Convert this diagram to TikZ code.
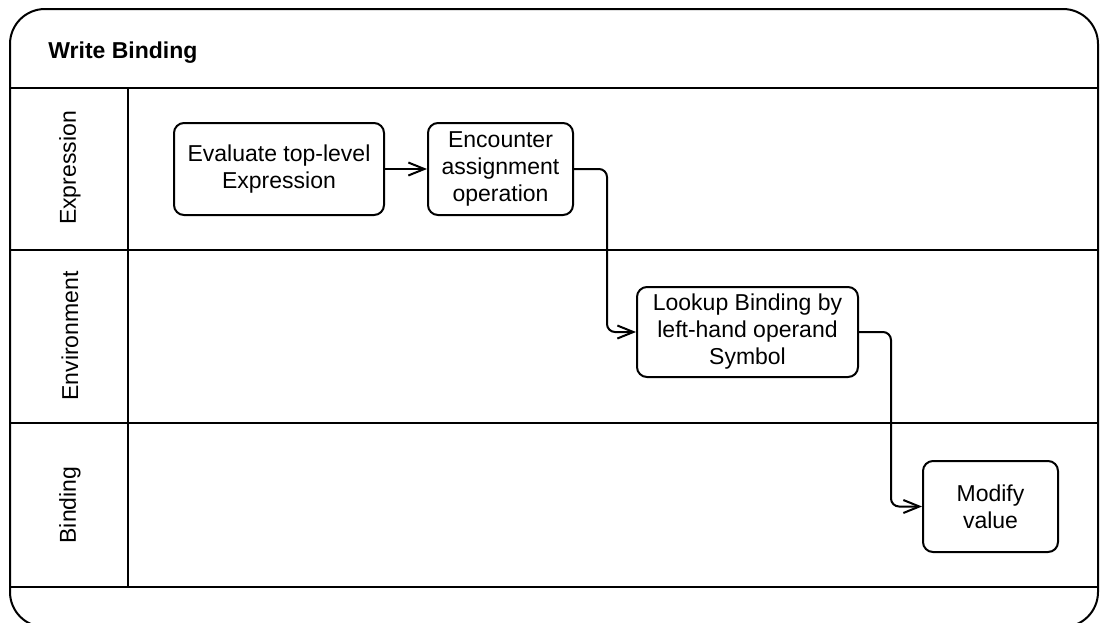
\documentclass[tikz,border=0pt]{standalone}
\usepackage{fontspec}
\setmainfont{Liberation Sans}
\usetikzlibrary{arrows.meta}
\begin{document}
\begin{tikzpicture}[x=0.5pt,y=-0.5pt,
  every node/.style={font=\fontsize{11.5pt}{13.5pt}\selectfont, text=black},
  frame/.style={draw=black, line width=1pt},
  task/.style={draw=black, line width=1pt, rounded corners=5pt, align=center,
    inner sep=0pt},
  lanelabel/.style={rotate=90, anchor=center},
  flow/.style={draw=black, line width=1pt, rounded corners=4pt,
    -{Straight Barb[length=8pt,width=6.5pt,line width=1pt]}}]
  \useasboundingbox (0,0) rectangle (1102,622);

  % pool outline with header band and lanes
  \draw[frame, rounded corners=17.5pt] (10,9) rectangle (1098,627);
  \draw[frame] (10,88) -- (1098,88);
  \draw[frame] (10,250) -- (1098,250);
  \draw[frame] (10,423) -- (1098,423);
  \draw[frame] (10,587) -- (1098,587);
  \draw[frame] (128,88) -- (128,587);

  % titles
  \node[anchor=west, inner sep=0pt, font=\fontsize{11.5pt}{13.5pt}\selectfont\bfseries] (title) at (48,53) {Write Binding};
  \node[lanelabel] (laneExpr) at (70,168) {Expression};
  \node[lanelabel] (laneEnv) at (70,336) {Environment};
  \node[lanelabel] (laneBind) at (70,505) {Binding};

  % activities
  \node[task, minimum width=105pt, minimum height=46pt] (eval) at (279,169)
    {Evaluate top-level\\Expression};
  \node[task, minimum width=72.5pt, minimum height=46pt] (enc) at (500.5,169)
    {Encounter\\assignment\\operation};
  \node[task, minimum width=110.5pt, minimum height=45pt] (look) at (747.5,332)
    {Lookup Binding by\\left-hand operand\\Symbol};
  \node[task, minimum width=67.5pt, minimum height=45.5pt] (mod) at (990.5,506.5)
    {Modify\\value};

  % flow
  \draw[flow] (eval.east) -- (enc.west);
  \draw[flow] (enc.east) -- ++(16.5pt,0) |- (look.west);
  \draw[flow] (look.east) -- ++(16pt,0) |- (mod.west);
\end{tikzpicture}
\end{document}
